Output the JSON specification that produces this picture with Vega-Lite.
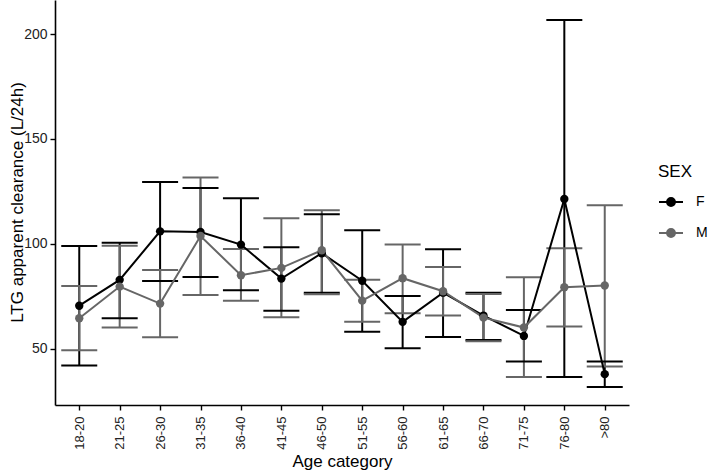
{
  "$schema": "https://vega.github.io/schema/vega-lite/v6.json",
  "autosize": {"type": "none"},
  "width": 574,
  "height": 405,
  "padding": {"left": 55, "top": 0, "right": 80, "bottom": 70},
  "background": "white",
  "config": {
    "view": {"stroke": null},
    "font": "Liberation Sans",
    "axis": {
      "domainColor": "#000000",
      "domainWidth": 1.6,
      "tickColor": "#000000",
      "tickWidth": 1.4,
      "tickSize": 5,
      "labelColor": "#222222",
      "labelFont": "Liberation Sans",
      "titleFont": "Liberation Sans",
      "titleColor": "#000000",
      "titleFontWeight": "normal",
      "grid": false
    }
  },
  "data": {
    "values": [
      {"age": "18-20", "SEX": "F", "mean": 70.6, "lo": 42.1, "hi": 99.0},
      {"age": "21-25", "SEX": "F", "mean": 82.9, "lo": 64.6, "hi": 100.6},
      {"age": "26-30", "SEX": "F", "mean": 106.0, "lo": 82.4, "hi": 129.5},
      {"age": "31-35", "SEX": "F", "mean": 105.7, "lo": 84.3, "hi": 126.7},
      {"age": "36-40", "SEX": "F", "mean": 99.7, "lo": 77.9, "hi": 121.8},
      {"age": "41-45", "SEX": "F", "mean": 83.5, "lo": 68.2, "hi": 98.4},
      {"age": "46-50", "SEX": "F", "mean": 95.6, "lo": 76.8, "hi": 114.1},
      {"age": "51-55", "SEX": "F", "mean": 82.5, "lo": 58.2, "hi": 106.5},
      {"age": "56-60", "SEX": "F", "mean": 62.9, "lo": 50.3, "hi": 75.2},
      {"age": "61-65", "SEX": "F", "mean": 76.8, "lo": 55.7, "hi": 97.5},
      {"age": "66-70", "SEX": "F", "mean": 65.9, "lo": 54.3, "hi": 76.8},
      {"age": "71-75", "SEX": "F", "mean": 56.2, "lo": 44.0, "hi": 68.6},
      {"age": "76-80", "SEX": "F", "mean": 121.4, "lo": 36.6, "hi": 206.7},
      {"age": ">80", "SEX": "F", "mean": 38.0, "lo": 31.9, "hi": 44.0},
      {"age": "18-20", "SEX": "M", "mean": 64.6, "lo": 49.4, "hi": 80.0},
      {"age": "21-25", "SEX": "M", "mean": 79.7, "lo": 60.2, "hi": 99.2},
      {"age": "26-30", "SEX": "M", "mean": 71.6, "lo": 55.6, "hi": 87.6},
      {"age": "31-35", "SEX": "M", "mean": 103.8, "lo": 75.7, "hi": 131.7},
      {"age": "36-40", "SEX": "M", "mean": 85.1, "lo": 73.0, "hi": 97.6},
      {"age": "41-45", "SEX": "M", "mean": 88.6, "lo": 65.1, "hi": 112.2},
      {"age": "46-50", "SEX": "M", "mean": 97.0, "lo": 76.0, "hi": 116.0},
      {"age": "51-55", "SEX": "M", "mean": 73.0, "lo": 62.9, "hi": 83.0},
      {"age": "56-60", "SEX": "M", "mean": 83.7, "lo": 67.0, "hi": 99.7},
      {"age": "61-65", "SEX": "M", "mean": 77.5, "lo": 65.9, "hi": 89.0},
      {"age": "66-70", "SEX": "M", "mean": 64.9, "lo": 53.7, "hi": 76.2},
      {"age": "71-75", "SEX": "M", "mean": 60.2, "lo": 36.6, "hi": 84.1},
      {"age": "76-80", "SEX": "M", "mean": 79.4, "lo": 60.7, "hi": 98.0},
      {"age": ">80", "SEX": "M", "mean": 80.2, "lo": 41.6, "hi": 118.4}
    ]
  },
  "encoding": {
    "x": {
      "field": "age",
      "type": "ordinal",
      "sort": null,
      "scale": {"type": "point", "padding": 0.6},
      "axis": {
        "title": "Age category",
        "titleFontSize": 17,
        "titlePadding": 4,
        "labelAngle": -90,
        "labelAlign": "right",
        "labelBaseline": "middle",
        "labelFontSize": 13,
        "labelPadding": 6
      }
    },
    "color": {
      "field": "SEX",
      "type": "nominal",
      "scale": {"domain": ["F", "M"], "range": ["#000000", "#666666"]},
      "legend": {
        "orient": "none",
        "legendX": 603,
        "legendY": 164,
        "title": "SEX",
        "titleFontSize": 17,
        "titleFontWeight": "normal",
        "titleColor": "#000000",
        "titlePadding": 8,
        "labelFontSize": 14,
        "labelColor": "#000000",
        "labelOffset": 12,
        "rowPadding": 10,
        "symbolType": "M-1,0L1,0M-0.33,0A0.33,0.33,0,1,1,0.33,0A0.33,0.33,0,1,1,-0.33,0Z",
        "symbolSize": 576,
        "symbolStrokeWidth": 2,
        "symbolOpacity": 1,
        "encode": {
          "symbols": {
            "update": {
              "fill": {"scale": "color", "field": "value"},
              "stroke": {"scale": "color", "field": "value"}
            }
          }
        }
      }
    }
  },
  "layer": [
    {
      "mark": {"type": "rule", "strokeWidth": 2},
      "encoding": {
        "y": {
          "field": "lo",
          "type": "quantitative",
          "scale": {"domain": [23.3, 216.2], "nice": false, "zero": false},
          "axis": {
            "title": "LTG apparent clearance (L/24h)",
            "titleFontSize": 17,
            "titleX": -38,
            "titleY": 202,
            "titleAngle": -90,
            "titleAlign": "center",
            "titleBaseline": "middle",
            "values": [50, 100, 150, 200],
            "labelFontSize": 14,
            "labelPadding": 3
          }
        },
        "y2": {"field": "hi"}
      }
    },
    {
      "mark": {"type": "tick", "size": 36, "thickness": 2, "opacity": 1},
      "encoding": {"y": {"field": "lo", "type": "quantitative"}}
    },
    {
      "mark": {"type": "tick", "size": 36, "thickness": 2, "opacity": 1},
      "encoding": {"y": {"field": "hi", "type": "quantitative"}}
    },
    {
      "mark": {"type": "line", "strokeWidth": 2},
      "encoding": {"y": {"field": "mean", "type": "quantitative"}}
    },
    {
      "mark": {"type": "point", "filled": true, "size": 70, "opacity": 1},
      "encoding": {"y": {"field": "mean", "type": "quantitative"}}
    }
  ]
}
